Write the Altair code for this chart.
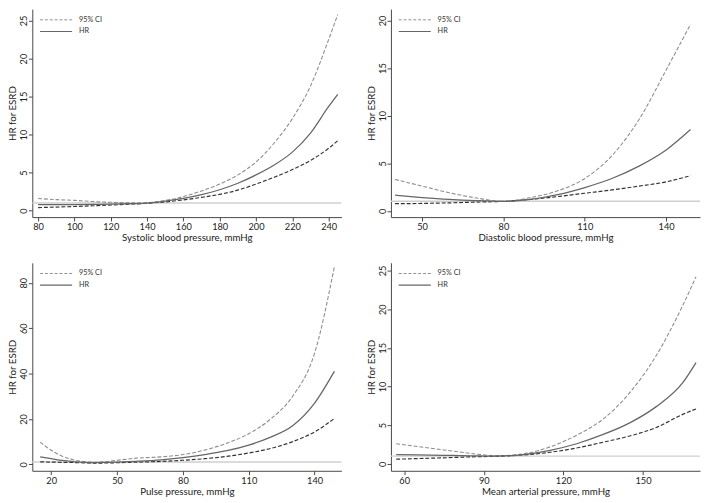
import altair as alt
import pandas as pd

# ---- Data ----
sbp_x = [80, 90, 100, 110, 120, 130, 140, 150, 160, 170, 180, 190, 200, 210, 220, 230, 240, 245]
sbp_hr = [0.80, 0.80, 0.80, 0.82, 0.86, 0.92, 1.0, 1.25, 1.6, 2.1, 2.75, 3.6, 4.7, 6.0, 7.7, 10.2, 13.7, 15.3]
sbp_hi = [1.6, 1.45, 1.35, 1.2, 1.1, 1.03, 1.05, 1.35, 1.85, 2.6, 3.5, 4.7, 6.4, 8.9, 12.1, 16.4, 22.5, 25.8]
sbp_lo = [0.40, 0.47, 0.55, 0.64, 0.74, 0.85, 0.97, 1.15, 1.42, 1.75, 2.15, 2.7, 3.5, 4.4, 5.4, 6.6, 8.2, 9.2]

dbp_x = [40, 50, 60, 70, 80, 90, 100, 110, 120, 130, 140, 149]
dbp_hr = [1.65, 1.4, 1.2, 1.07, 1.0, 1.2, 1.7, 2.45, 3.4, 4.7, 6.4, 8.55]
dbp_hi = [3.3, 2.6, 1.9, 1.35, 1.0, 1.4, 2.1, 3.4, 5.8, 9.6, 14.8, 19.6]
dbp_lo = [0.75, 0.78, 0.84, 0.92, 1.0, 1.2, 1.5, 1.85, 2.2, 2.6, 3.05, 3.7]

pp_x = [15, 20, 25, 30, 35, 40, 45, 50, 60, 70, 80, 90, 100, 110, 120, 130, 140, 149]
pp_hr = [3.3, 2.5, 1.7, 1.2, 0.9, 0.8, 0.85, 1.0, 1.4, 2.0, 3.0, 4.3, 6.0, 8.5, 12.0, 17.0, 27.0, 41.0]
pp_hi = [9.8, 6.2, 3.6, 2.0, 1.2, 0.95, 1.2, 1.8, 2.8, 3.3, 4.3, 6.3, 9.3, 13.5, 20.0, 30.0, 49.0, 87.0]
pp_lo = [1.1, 1.0, 0.9, 0.8, 0.65, 0.55, 0.6, 0.7, 1.0, 1.3, 1.8, 2.5, 3.5, 5.0, 7.0, 10.0, 14.3, 20.2]

map_x = [57, 65, 75, 85, 95, 105, 115, 125, 135, 145, 155, 165, 170]
map_hr = [1.2, 1.15, 1.1, 1.04, 1.0, 1.2, 1.75, 2.6, 3.8, 5.3, 7.4, 10.5, 13.1]
map_hi = [2.6, 2.25, 1.8, 1.35, 1.05, 1.3, 2.2, 3.7, 5.8, 9.2, 14.0, 20.5, 24.2]
map_lo = [0.6, 0.68, 0.78, 0.9, 0.98, 1.15, 1.5, 2.05, 2.8, 3.6, 4.7, 6.4, 7.1]

legend_labels = ["95% CI", "HR"]
reference_hr = [1]

W, H = 318, 214
FONT = "Lato"


def panel(xs, hr, lo, hi, xdom, xticks, ydom, yticks, xtitle):
    df = pd.DataFrame({"x": xs, "hr": hr, "lo": lo, "hi": hi})
    xs_ = alt.Scale(domain=xdom, nice=False, zero=False)
    ys_ = alt.Scale(domain=ydom, nice=False, zero=False)
    xax = alt.Axis(values=xticks, title=xtitle, grid=False)
    yax = alt.Axis(values=yticks, title="HR for ESRD", grid=False,
                   labelAngle=270, labelAlign="center", labelBaseline="bottom")
    base = alt.Chart(df)
    ref = alt.Chart(pd.DataFrame({"ref": reference_hr})).mark_rule(
        color="#cfcfcf", strokeWidth=1.5).encode(
        y=alt.Y("ref:Q", scale=ys_, axis=yax)
    )

    def line(col, color, dash, width):
        kw = dict(color=color, strokeWidth=width, interpolate="monotone", clip=True)
        if dash:
            kw["strokeDash"] = dash
        return base.mark_line(**kw).encode(
            x=alt.X("x:Q", scale=xs_, axis=xax),
            y=alt.Y(f"{col}:Q", scale=ys_, axis=yax),
        )
    hi_l = line("hi", "#8c8c8c", [4, 2], 1.1)
    hr_l = line("hr", "#666666", None, 1.3)
    lo_l = line("lo", "#333333", [4, 2], 1.2)
    leg = alt.Chart(pd.DataFrame({"lab": legend_labels}))
    lg_ci = leg.transform_filter(alt.datum.lab == "95% CI").mark_rule(
        color="#8c8c8c", strokeDash=[3, 2], strokeWidth=1).encode(
        x=alt.value(8), x2=alt.value(41), y=alt.value(11))
    lg_hr = leg.transform_filter(alt.datum.lab == "HR").mark_rule(
        color="#666666", strokeWidth=1.2).encode(
        x=alt.value(8), x2=alt.value(41), y=alt.value(23))
    txt_kw = dict(align="left", baseline="middle", fontSize=7.5, font=FONT, color="#333333")
    lg_t1 = leg.transform_filter(alt.datum.lab == "95% CI").mark_text(**txt_kw).encode(
        x=alt.value(48), y=alt.value(11), text="lab:N")
    lg_t2 = leg.transform_filter(alt.datum.lab == "HR").mark_text(**txt_kw).encode(
        x=alt.value(48), y=alt.value(23), text="lab:N")
    return alt.layer(ref, hi_l, lo_l, hr_l, lg_ci, lg_hr, lg_t1, lg_t2).properties(
        width=W, height=H)


p1 = panel(sbp_x, sbp_hr, sbp_lo, sbp_hi, [76.8, 247], [80, 100, 120, 140, 160, 180, 200, 220, 240],
           [-0.85, 26.5], [0, 5, 10, 15, 20, 25], "Systolic blood pressure, mmHg")
p2 = panel(dbp_x, dbp_hr, dbp_lo, dbp_hi, [38.5, 152.5], [50, 80, 110, 140],
           [-0.66, 21.2], [0, 5, 10, 15, 20], "Diastolic blood pressure, mmHg")
p3 = panel(pp_x, pp_hr, pp_lo, pp_hi, [11.4, 152.2], [20, 50, 80, 110, 140],
           [-2.84, 88.8], [0, 20, 40, 60, 80], "Pulse pressure, mmHg")
p4 = panel(map_x, map_hr, map_lo, map_hi, [55, 171.5], [60, 90, 120, 150],
           [-0.9, 26.0], [0, 5, 10, 15, 20, 25], "Mean arterial pressure, mmHg")

chart = alt.vconcat(
    alt.hconcat(p1, p2, spacing=24),
    alt.hconcat(p3, p4, spacing=24),
    spacing=20,
).configure(
    padding={"top": -6, "left": 0, "right": 0, "bottom": 0},
    font=FONT,
).configure_view(
    stroke=None
).configure_axis(
    domainColor="#444444",
    tickColor="#444444",
    tickSize=4,
    labelFontSize=9.5,
    labelColor="#222222",
    labelPadding=1,
    titleFontSize=10,
    titleFontWeight="normal",
    titleColor="#222222",
    titlePadding=2,
    labelFont=FONT,
    titleFont=FONT,
).configure_axisY(
    labelAngle=270,
    labelAlign="center",
    labelBaseline="bottom",
    labelPadding=0,
    titlePadding=1,
)

chart.save("out.html", embed_options={"renderer": "svg", "actions": False})
